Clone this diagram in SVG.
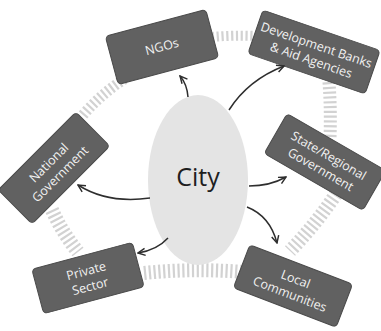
<svg xmlns="http://www.w3.org/2000/svg" width="381" height="331" viewBox="0 0 381 331">
<style>
.ring{fill:none;stroke:#d2d2d2;stroke-dasharray:2.2 2.6;}
.box rect{fill:#616161;stroke:#4a4a4a;stroke-width:1;}
.box text{fill:#f2f2f2;font-family:"Open Sans","DejaVu Sans",sans-serif;font-size:12.5px;text-anchor:middle;}
.arr{fill:none;stroke:#2e2e2e;stroke-width:1.5;marker-end:url(#ah);}
</style>
<defs>
<marker id="ah" viewBox="0 0 10 10" refX="9" refY="5" markerWidth="9" markerHeight="9" markerUnits="userSpaceOnUse" orient="auto">
<path d="M1,1 L9,5 L1,9" fill="none" stroke="#2e2e2e" stroke-width="1.6"/>
</marker>
</defs>
<rect width="381" height="331" fill="#ffffff"/>
<g id="ring">
<path class="ring" d="M212,37 Q233,35 256,36" stroke-width="10"/>
<path class="ring" d="M329,82 Q331,110 330,138" stroke-width="13"/>
<path class="ring" d="M336,194 Q316,224 290,251" stroke-width="14"/>
<path class="ring" d="M144,273 Q193,268 244,272" stroke-width="14"/>
<path class="ring" d="M52,210 Q62,232 78,252" stroke-width="14"/>
<path class="ring" d="M83,115 Q102,93 126,78" stroke-width="11"/>
</g>
<g id="city">
<ellipse cx="198" cy="180" rx="50" ry="85" fill="#e4e4e4"/>
<text x="198" y="186" font-family="'Open Sans','DejaVu Sans',sans-serif" font-size="25" fill="#1e1e1e" text-anchor="middle">City</text>
</g>
<g id="ngos" class="box" transform="translate(162,47) rotate(-15)">
<rect x="-52" y="-25" width="104" height="50" rx="4"/>
<text x="0" y="4">NGOs</text>
</g>
<g id="devbanks" class="box" transform="translate(314,52) rotate(19)">
<rect x="-62" y="-23" width="124" height="46" rx="4"/>
<text x="0" y="-3">Development Banks</text>
<text x="0" y="13">&amp; Aid Agencies</text>
</g>
<g id="national" class="box" transform="translate(54,168) rotate(-45)">
<rect x="-55" y="-24" width="110" height="48" rx="4"/>
<text x="0" y="-3">National</text>
<text x="0" y="13">Government</text>
</g>
<g id="state" class="box" transform="translate(325,162) rotate(30)">
<rect x="-57" y="-23" width="114" height="46" rx="4"/>
<text x="0" y="-3">State/Regional</text>
<text x="0" y="13">Government</text>
</g>
<g id="private" class="box" transform="translate(88,278) rotate(-15)">
<rect x="-52" y="-23" width="104" height="46" rx="4"/>
<text x="0" y="-3">Private</text>
<text x="0" y="13">Sector</text>
</g>
<g id="local" class="box" transform="translate(293,286) rotate(21)">
<rect x="-55" y="-23" width="110" height="46" rx="4"/>
<text x="0" y="-3">Local</text>
<text x="0" y="13">Communities</text>
</g>
<g id="connectors">
<path class="arr" d="M188,97 Q187,84 180,76"/>
<path class="arr" d="M229,110 Q248,80 284,66"/>
<path class="arr" d="M150,198 Q108,204 78,185"/>
<path class="arr" d="M249,186 Q270,186 286,177"/>
<path class="arr" d="M247,207 Q270,216 277,243"/>
<path class="arr" d="M168,238 Q157,250 138,253"/>
</g>
</svg>
